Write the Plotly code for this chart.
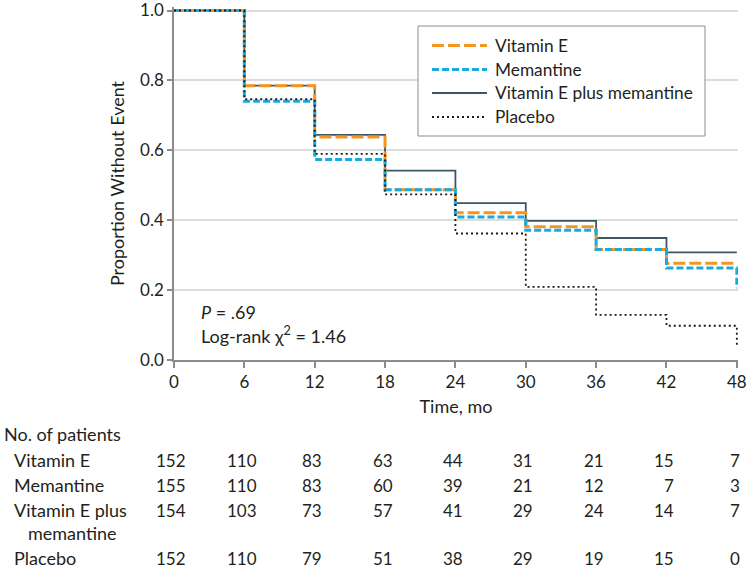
import plotly.graph_objects as go

# ---------------- data ----------------
times = [0, 6, 12, 18, 24, 30, 36, 42, 48]
vitamin_e = [1.0, 0.785, 0.638, 0.487, 0.421, 0.381, 0.316, 0.277, 0.277]
memantine = [1.0, 0.740, 0.574, 0.487, 0.409, 0.371, 0.316, 0.263, 0.205]
combo = [1.0, 0.785, 0.644, 0.542, 0.449, 0.398, 0.349, 0.308, 0.308]
placebo = [1.0, 0.746, 0.590, 0.474, 0.362, 0.209, 0.129, 0.098, 0.038]

series_names = ["Vitamin E", "Memantine", "Vitamin E plus memantine", "Placebo"]
y_ticks = [0.0, 0.2, 0.4, 0.6, 0.8, 1.0]
y_ticktext = ["0.0", "0.2", "0.4", "0.6", "0.8", "1.0"]

risk_header = "No. of patients"
at_risk_vite = [152, 110, 83, 63, 44, 31, 21, 15, 7]
at_risk_mem = [155, 110, 83, 60, 39, 21, 12, 7, 3]
at_risk_combo = [154, 103, 73, 57, 41, 29, 24, 14, 7]
at_risk_placebo = [152, 110, 79, 51, 38, 29, 19, 15, 0]

p_text = "<i>P</i> = .69"
chi_text = "Log-rank χ<sup>2</sup> = 1.46"

# ---------------- styling ----------------
W, H = 750, 569
ML, MR, MT, MB = 174, 12, 7, 209
PW, PH = W - ML - MR, H - MT - MB
TXT = "#231f20"
FONT = "Lato"
FS = 18      # text size
LS = 17.3    # legend text size
NS = 17      # number size
DIGIT_HALF = 4.8

styles = {
    "Vitamin E": dict(color="#F7941D", width=3, dash="12px,4px"),
    "Memantine": dict(color="#1AA9E1", width=3, dash="7px,3px"),
    "Vitamin E plus memantine": dict(color="#3D5663", width=1.8, dash="solid"),
    "Placebo": dict(color="#1a1a1a", width=1.8, dash="2px,3px"),
}
series = {
    "Vitamin E": vitamin_e,
    "Memantine": memantine,
    "Vitamin E plus memantine": combo,
    "Placebo": placebo,
}


def px_x(px):
    return (px - ML) / PW


def px_y(py):
    return (H - MB - py) / PH


def note(text, x, y, size=FS, xref="paper", xanchor="left", xshift=0):
    return dict(text=text, x=x, y=y, xref=xref, yref="paper", xanchor=xanchor,
                yanchor="middle", xshift=xshift, showarrow=False,
                font=dict(size=size, color=TXT, family=FONT))


fig = go.Figure()
for name in ["Vitamin E plus memantine", "Vitamin E", "Memantine", "Placebo"]:
    fig.add_trace(go.Scatter(
        x=times, y=series[name], mode="lines", name=name,
        line=dict(shape="hv", **styles[name]), showlegend=False,
    ))

annotations = []
shapes = []

# stats text
annotations.append(note(p_text, px_x(199), px_y(312)))
annotations.append(note(chi_text, px_x(199), px_y(335)))

# manual legend
shapes.append(dict(type="rect", xref="paper", yref="paper",
                   x0=px_x(418), x1=px_x(705), y0=px_y(26), y1=px_y(136),
                   line=dict(color="#8c8c8c", width=1), fillcolor="white", layer="above"))
leg_y = [45.5, 69.5, 93, 117]
for name, ly in zip(series_names, leg_y):
    st = styles[name]
    shapes.append(dict(type="line", xref="paper", yref="paper",
                       x0=px_x(432), x1=px_x(487), y0=px_y(ly), y1=px_y(ly),
                       line=dict(color=st["color"], width=st["width"], dash=st["dash"]),
                       layer="above"))
    annotations.append(note(name, px_x(493), px_y(ly), size=LS))

# number at risk table
annotations.append(note(risk_header, px_x(2), px_y(434)))
rows = [
    (["Vitamin E"], at_risk_vite, 460),
    (["Memantine"], at_risk_mem, 485),
    (["Vitamin E plus", "memantine"], at_risk_combo, 510),
    (["Placebo"], at_risk_placebo, 558),
]
for labels, counts, ry in rows:
    for i, lab in enumerate(labels):
        annotations.append(note(lab, px_x(12 + 14 * i), px_y(ry + 23 * i)))
all_rows = [at_risk_vite, at_risk_mem, at_risk_combo, at_risk_placebo]
for j, t in enumerate(times):
    ndig = max(len(str(r[j])) for r in all_rows)
    for labels, counts, ry in rows:
        annotations.append(note(str(counts[j]), t, px_y(ry), size=NS, xref="x",
                                xanchor="right", xshift=ndig * DIGIT_HALF))

fig.update_layout(
    width=W, height=H,
    margin=dict(l=ML, r=MR, t=MT, b=MB, autoexpand=False),
    plot_bgcolor="white", paper_bgcolor="white",
    font=dict(family=FONT, size=FS, color=TXT),
    xaxis=dict(range=[0, 48.1], tickvals=times, ticks="outside", ticklen=6, tickwidth=1.5,
               tickcolor="#8c8c8c", showline=True, linecolor="#8c8c8c", linewidth=1.5,
               showgrid=False, zeroline=False, tickfont=dict(size=NS, color=TXT),
               ticklabeloverflow="allow",
               title=dict(text="Time, mo", font=dict(size=FS, color=TXT), standoff=9)),
    yaxis=dict(range=[0, 1.01], tickvals=y_ticks, ticktext=y_ticktext, ticks="outside",
               ticklen=5, tickwidth=1.5, tickcolor="#8c8c8c", showline=True,
               linecolor="#8c8c8c", linewidth=1.5, showgrid=True, gridcolor="#dcdcdc",
               gridwidth=1.5, zeroline=False, tickfont=dict(size=NS, color=TXT),
               ticklabeloverflow="allow",
               title=dict(text="Proportion Without Event", font=dict(size=FS, color=TXT),
                          standoff=11)),
    annotations=annotations,
    shapes=shapes,
)

fig.write_html("out.html", config={"displayModeBar": False},
               post_script="document.body.style.margin='0px';document.body.style.padding='0px';")
